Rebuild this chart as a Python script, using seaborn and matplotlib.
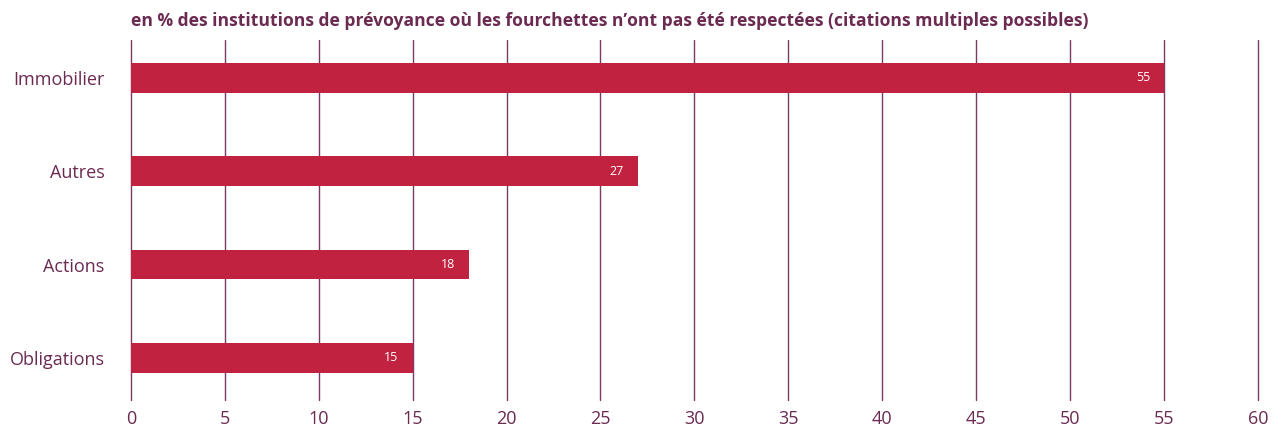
import matplotlib
matplotlib.use("Agg")
import matplotlib.pyplot as plt
import seaborn as sns
import pandas as pd

# données
categories = ["Immobilier", "Autres", "Actions", "Obligations"]
values = [55, 27, 18, 15]
x_ticks = list(range(0, 65, 5))

title = "en % des institutions de prévoyance où les fourchettes n’ont pas été respectées (citations multiples possibles)"

bar_color = "#C1223F"
text_color = "#6B2A50"
grid_color = "#7A3A62"

df = pd.DataFrame({"cat": categories, "val": values})

sns.set_theme(style="white")
plt.rcParams["font.family"] = ["Open Sans", "DejaVu Sans"]

fig = plt.figure(figsize=(12.83, 4.32), dpi=100)
ax = fig.add_axes([0.102, 0.074, 0.8785, 0.833])

sns.barplot(data=df, x="val", y="cat", color=bar_color, width=0.32,
            saturation=1, ax=ax, zorder=3, edgecolor="none", linewidth=0)

ax.set_xlim(0, 60)
ax.set_ylim(3.45, -0.4)
ax.set_xticks(x_ticks)
ax.set_xticklabels([str(t) for t in x_ticks], fontsize=13, color=text_color)
ax.tick_params(axis="y", labelsize=13, labelcolor=text_color, length=0, pad=19)
ax.tick_params(axis="x", length=0, pad=7)
ax.set_xlabel("")
ax.set_ylabel("")
for s in ax.spines.values():
    s.set_visible(False)
for t in x_ticks:
    ax.axvline(t, color=grid_color, lw=1, zorder=1, clip_on=False)

for i, v in enumerate(values):
    ax.text(v - 0.75, i, str(v), color="white", fontsize=9, ha="right",
            va="center", zorder=4)

fig.text(0.102, 0.952, title, fontsize=12.6, fontweight="bold",
         color=text_color, ha="left", va="center")

fig.savefig("out.png", dpi=100)
